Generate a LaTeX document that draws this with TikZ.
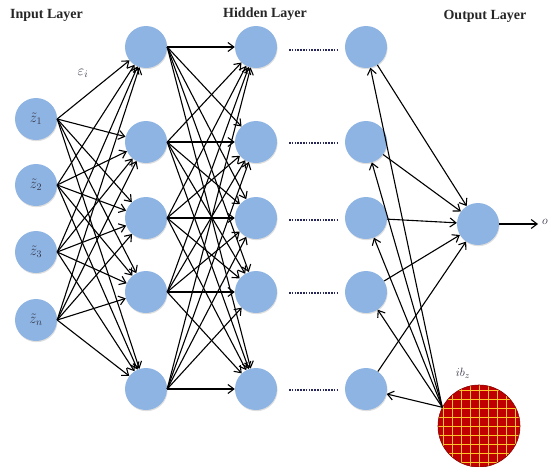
\documentclass[tikz,border=0pt]{standalone}
\usepackage{fontspec}
\setmainfont{Liberation Serif}
\usetikzlibrary{arrows.meta,shadows}
\definecolor{nodeblue}{RGB}{141,180,226}
\definecolor{biasred}{RGB}{192,0,0}
\definecolor{gridyellow}{RGB}{255,196,40}
\definecolor{labgray}{RGB}{55,55,75}
\definecolor{dotcol}{RGB}{40,40,90}
\tikzset{
  neuron/.style={circle,fill=nodeblue,minimum size=42pt,inner sep=0pt,
    drop shadow={opacity=0.25,shadow xshift=0.6pt,shadow yshift=-1.2pt}},
  arr/.style={line width=1.1pt,-{Straight Barb[length=6pt,width=9pt,line width=1.1pt]}},
  title/.style={font=\fontsize{14}{16}\selectfont\bfseries,text=black!85},
  dots/.style={line width=1.1pt,dotcol,dash pattern=on 1.6pt off 1.2pt},
  lab/.style={text=labgray,font=\fontsize{14}{16}\selectfont}
}
\begin{document}
\begin{tikzpicture}[x=1pt,y=-1pt]
\useasboundingbox (0,0) rectangle (548,466);
% titles
\node[title] (tin) at (46.5,15) {Input Layer};
\node[title] (thid) at (265,14) {Hidden Layer};
\node[title] (tout) at (485,16) {Output Layer};
% input nodes
\node[neuron] (in1) at (36,119) {};
\node[neuron] (in2) at (36,185) {};
\node[neuron] (in3) at (36,252) {};
\node[neuron] (in4) at (36,320) {};
\node[lab] (l1) at (in1) {$\tilde{z}_1$};
\node[lab] (l2) at (in2) {$\tilde{z}_2$};
\node[lab] (l3) at (in3) {$\tilde{z}_3$};
\node[lab] (l4) at (in4) {$\tilde{z}_n$};
% hidden layers
\foreach \j/\y in {1/47,2/142,3/218,4/292,5/389}{
  \node[neuron] (a\j) at (146,\y) {};
  \node[neuron] (b\j) at (256,\y) {};
  \node[neuron] (c\j) at (366,\y) {};
}
% output
\node[neuron] (out) at (478,224) {};
\coordinate (o) at (538,224);
\node[lab,font=\fontsize{12}{14}\selectfont] (olab) at (545,222) {$o$};
% bias
\node[circle,minimum size=82pt,inner sep=0pt] (bias) at (479,426) {};
\begin{scope}
  \clip (bias.center) circle (41pt);
  \fill[biasred] (bias.center) circle (41pt);
  \foreach \k in {-5,...,5}{
    \draw[gridyellow,line width=1pt] ([xshift=\k*9pt]bias.center) ++(0,-45) -- ++(0,90);
    \draw[gridyellow,line width=1pt] ([yshift=-\k*9pt]bias.center) ++(-45,0) -- ++(90,0);
  }
\end{scope}
\draw[biasred!70!black,line width=0.6pt] (bias.center) circle (41pt);
\node[lab,font=\fontsize{13}{15}\selectfont] (iblab) at (463,373) {$ib_z$};
\node[lab,font=\fontsize{14}{16}\selectfont] (eps) at (83,73) {$\varepsilon_i$};
% edges input -> hidden1
\foreach \i in {1,...,4}{
  \foreach \j in {1,...,5}{
    \draw[arr] (in\i.east) -- (a\j);
  }
}
% hidden1 -> hidden2
\foreach \i in {1,...,5}{
  \foreach \j in {1,...,5}{
    \draw[arr] (a\i.east) -- (b\j);
  }
}
% dots between hidden2 and hidden3
\foreach \j/\y in {1/50,2/143,3/220,4/293,5/390}{
  \draw[dots] (289,\y) -- (337,\y);
}
% hidden3 -> output, bias -> hidden3
\foreach \j in {1,...,5}{
  \draw[arr] (c\j) -- (out);
  \draw[arr] (bias.153) -- (c\j);
}
\draw[arr] (out.east) -- (o);
\end{tikzpicture}
\end{document}
